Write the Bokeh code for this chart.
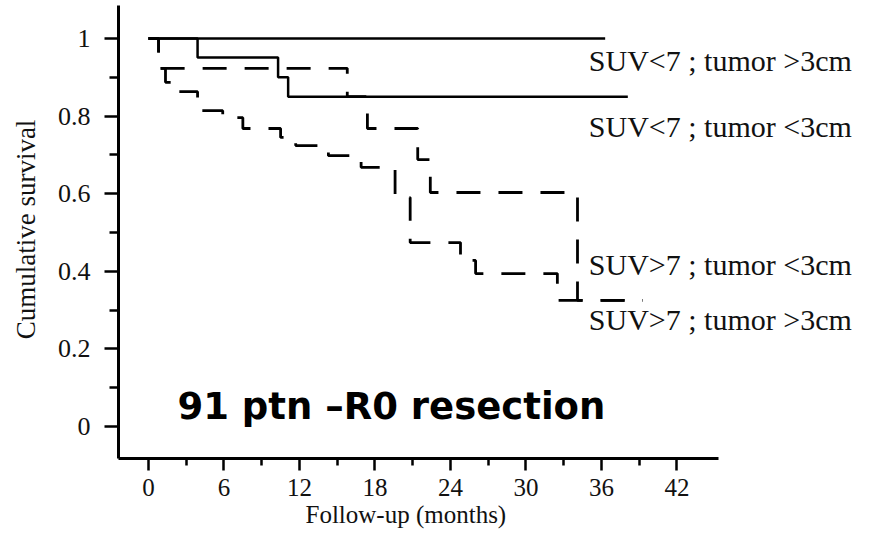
from bokeh.plotting import figure
from bokeh.models import FixedTicker, Range1d, Label, Title
from bokeh.embed import file_html
from bokeh.resources import INLINE

# ---- data ----
# SUV<7 ; tumor >3cm  (solid, no events)
t_low_big = [0, 36.3]
s_low_big = [1.0, 1.0]
# SUV<7 ; tumor <3cm  (solid)
t_low_small = [0, 3.9, 10.3, 11.1, 38.1]
s_low_small = [1.0, 0.951, 0.90, 0.85, 0.85]
# SUV>7 ; tumor <3cm  (dashed, upper)
t_high_small = [0, 0.8, 15.8, 17.4, 21.4, 22.4, 34.1, 39.3]
s_high_small = [1.0, 0.923, 0.85, 0.768, 0.688, 0.603, 0.325, 0.325]
# SUV>7 ; tumor >3cm  (dashed, lower)
t_high_big = [0, 0.8, 1.35, 2.2, 3.9, 5.9, 7.5, 10.5, 11.7, 14.3, 16.9,
              19.6, 20.8, 24.8, 26.0, 32.5, 39.3]
s_high_big = [1.0, 0.923, 0.887, 0.863, 0.814, 0.796, 0.768, 0.745, 0.724,
              0.698, 0.668, 0.59, 0.474, 0.428, 0.394, 0.325, 0.325]

x_ticks = [0, 6, 12, 18, 24, 30, 36, 42]
x_minor = [3, 9, 15, 21, 27, 33, 39]
y_ticks = [0, 0.2, 0.4, 0.6, 0.8, 1]
y_tick_labels = ["0", "0.2", "0.4", "0.6", "0.8", "1"]
y_minor = [0.1, 0.3, 0.5, 0.7, 0.9]

curve_labels = ["SUV<7 ; tumor >3cm", "SUV<7 ; tumor <3cm",
                "SUV>7 ; tumor <3cm", "SUV>7 ; tumor >3cm"]
label_x = 35.0
label_y = [0.943, 0.773, 0.417, 0.275]
note_text = "91 ptn \u2013R0 resection"
x_title = "Follow-up (months)"
y_title = "Cumulative survival"

SERIF = "Liberation Serif"

X0, X1 = -2.385, 45.31      # drawn extent of the x axis
Y0, Y1 = -0.0825, 1.085     # drawn extent of the y axis

p = figure(width=872, height=539, output_backend="svg", toolbar_location=None,
           x_range=Range1d(X0, 57.55), y_range=Range1d(Y0, 1.0979),
           min_border_left=118, min_border_right=0, min_border_top=0,
           min_border_bottom=81)
p.outline_line_color = None
p.xgrid.visible = False
p.ygrid.visible = False
p.background_fill_color = "white"
p.border_fill_color = "white"

for ax in (p.xaxis[0], p.yaxis[0]):
    ax.axis_line_width = 3
    ax.axis_line_color = "black"
    ax.major_tick_line_width = 2.5
    ax.minor_tick_line_width = 2.5
    ax.major_tick_line_color = "black"
    ax.minor_tick_line_color = "black"
    ax.major_tick_in = 0
    ax.minor_tick_in = 0
    ax.major_label_text_font = SERIF
    ax.major_label_text_color = "#111111"
    ax.axis_label_text_font = SERIF
    ax.axis_label_text_font_style = "normal"
    ax.axis_label_text_color = "#111111"

p.xaxis.bounds = (X0, X1)
p.yaxis.bounds = (Y0, Y1)
p.xaxis.ticker = FixedTicker(ticks=x_ticks, minor_ticks=x_minor)
p.yaxis.ticker = FixedTicker(ticks=y_ticks, minor_ticks=y_minor)
p.yaxis.major_label_overrides = {v: l for v, l in zip(y_ticks, y_tick_labels)}
p.xaxis.major_tick_out = 12
p.xaxis.minor_tick_out = 7
p.yaxis.major_tick_out = 14
p.yaxis.minor_tick_out = 9
p.xaxis.major_label_text_font_size = "25px"
p.yaxis.major_label_text_font_size = "26px"
p.xaxis.major_label_standoff = 8
p.yaxis.major_label_standoff = 14
p.yaxis.axis_label = y_title
p.yaxis.axis_label_text_font_size = "27px"
p.yaxis.axis_label_standoff = 14

# x-axis title placed as a below-title so that it centres under the drawn axis
p.add_layout(Title(text=x_title, align="left", offset=187, standoff=0,
                   text_font=SERIF, text_font_size="25px",
                   text_font_style="normal", text_color="#111111"), "below")

p.step(t_low_big, s_low_big, mode="after", line_color="black", line_width=2.5)
p.step(t_low_small, s_low_small, mode="after", line_color="black", line_width=2.5)
p.step(t_high_small, s_high_small, mode="after", line_color="black",
       line_width=2.8, line_dash="24 18")
p.step(t_high_big, s_high_big, mode="after", line_color="black",
       line_width=2.8, line_dash="24 18")

for txt, yy in zip(curve_labels, label_y):
    p.add_layout(Label(x=label_x, y=yy, text=txt, text_font=SERIF,
                       text_font_size="30px", text_color="#111111",
                       text_baseline="alphabetic", text_align="left"))

p.add_layout(Label(x=2.3, y=0.051, text=note_text, text_font="DejaVu Sans",
                   text_font_style="bold", text_font_size="37px",
                   text_color="black", text_baseline="alphabetic"))

open("out.html", "w").write(file_html(p, INLINE))
